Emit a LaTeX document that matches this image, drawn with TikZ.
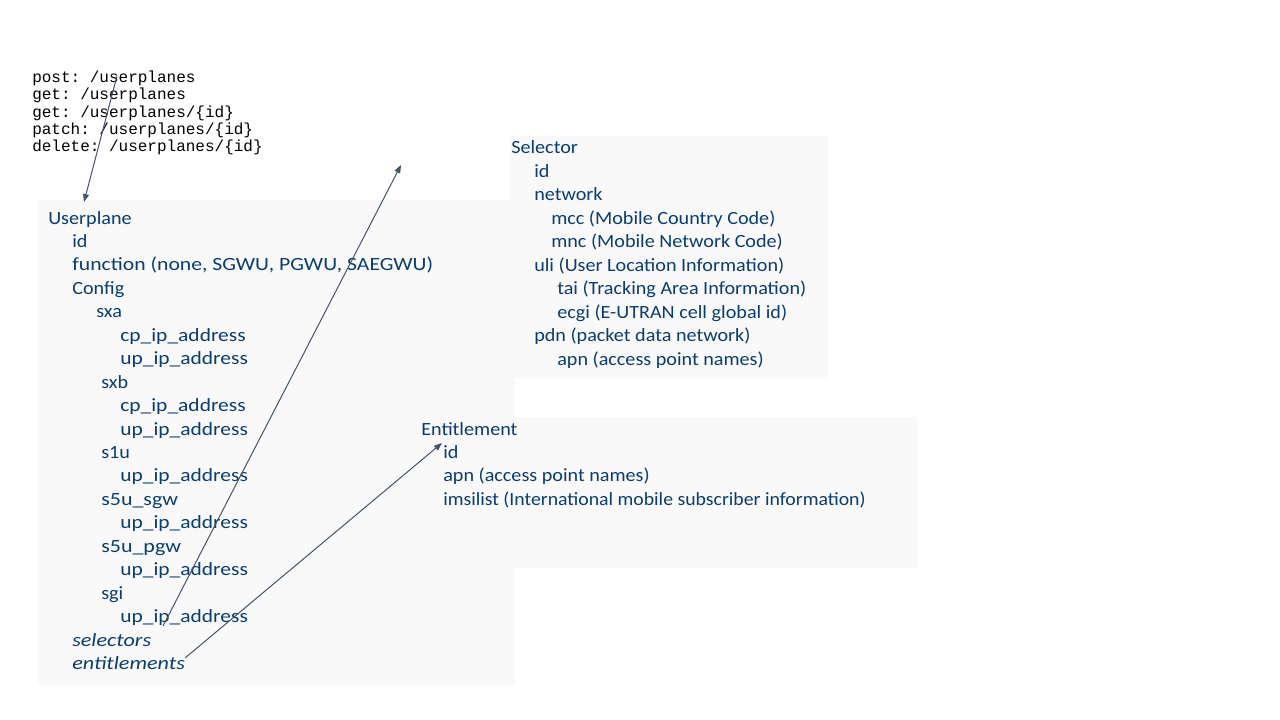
\documentclass[tikz,border=0pt]{standalone}
\usepackage{fontspec}
\usepackage{graphicx}
\setmainfont{Carlito}[FakeStretch=1.08]
\setmonofont{Liberation Mono}
\usetikzlibrary{arrows.meta}
\definecolor{txt}{HTML}{0B3D72}
\definecolor{boxfill}{HTML}{F9F9F9}
\definecolor{arr}{HTML}{44546A}
\newcommand{\wide}[1]{\scalebox{1.065}[1]{#1}}
\begin{document}
\begin{tikzpicture}[x=0.75pt,y=-0.75pt,
  lbl/.style={anchor=base west, inner sep=0pt, text=txt, font=\fontsize{14}{16}\selectfont},
  code/.style={anchor=base west, inner sep=0pt, text=black, font=\ttfamily\fontsize{12}{13}\selectfont},
  panel/.style={fill=boxfill, draw=none},
  link/.style={draw=arr, line width=0.75pt, -{Triangle[length=6pt,width=4.5pt]}}]
\useasboundingbox (0,0) rectangle (1280,720);
% panels
\fill[panel] (415,417) rectangle (918,568);
\fill[panel] (510,136) rectangle (828,378);
\fill[panel] (38,200) rectangle (515,685);
% code
\node[code] (c1) at (32,82.5) {post: /userplanes};
\node[code] (c2) at (32,99.8) {get: /userplanes};
\node[code] (c3) at (32,117.1) {get: /userplanes/\{id\}};
\node[code] (c4) at (32,134.4) {patch: /userplanes/\{id\}};
\node[code] (c5) at (32,151.7) {delete: /userplanes/\{id\}};
% userplane
\node[lbl] (u0) at (48,224) {Userplane};
\node[lbl] (u1) at (72,247.45) {id};
\node[lbl] (u2) at (72,270.9) {\scalebox{1.075}[1]{function (none, SGWU, PGWU, SAEGWU)}};
\node[lbl] (u3) at (72,294.35) {Config};
\node[lbl] (u4) at (96,317.8) {sxa};
\node[lbl] (u5) at (120,341.25) {\wide{cp\_ip\_address}};
\node[lbl] (u6) at (120,364.7) {\wide{up\_ip\_address}};
\node[lbl] (u7) at (101,388.15) {sxb};
\node[lbl] (u8) at (120,411.6) {\wide{cp\_ip\_address}};
\node[lbl] (u9) at (120,435.05) {\wide{up\_ip\_address}};
\node[lbl] (u10) at (101,458.5) {s1u};
\node[lbl] (u11) at (120,481.95) {\wide{up\_ip\_address}};
\node[lbl] (u12) at (101,505.4) {\scalebox{1.09}[1]{s5u\_sgw}};
\node[lbl] (u13) at (120,528.85) {\wide{up\_ip\_address}};
\node[lbl] (u14) at (101,552.3) {\scalebox{1.09}[1]{s5u\_pgw}};
\node[lbl] (u15) at (120,575.75) {\wide{up\_ip\_address}};
\node[lbl] (u16) at (101,599.2) {sgi};
\node[lbl] (u17) at (120,622.65) {\wide{up\_ip\_address}};
\node[lbl] (u18) at (72,646.1) {\scalebox{1.1}[1]{\itshape selectors}};
\node[lbl] (u19) at (72,669.55) {\scalebox{1.1}[1]{\itshape entitlements}};
% selector
\node[lbl] (s0) at (511,154) {Selector};
\node[lbl] (s1) at (534,177.45) {id};
\node[lbl] (s2) at (534,200.9) {network};
\node[lbl] (s3) at (551,224.35) {mcc (Mobile Country Code)};
\node[lbl] (s4) at (551,247.8) {mnc (Mobile Network Code)};
\node[lbl] (s5) at (534,271.25) {uli (User Location Information)};
\node[lbl] (s6) at (557,294.7) {tai (Tracking Area Information)};
\node[lbl] (s7) at (557,318.15) {ecgi (E-UTRAN cell global id)};
\node[lbl] (s8) at (534,341.6) {pdn (packet data network)};
\node[lbl] (s9) at (557,365.05) {apn (access point names)};
% entitlement
\node[lbl] (e0) at (421,435) {Entitlement};
\node[lbl] (e1) at (443,458.45) {id};
\node[lbl] (e2) at (443,481.9) {apn (access point names)};
\node[lbl] (e3) at (443,505.35) {\scalebox{0.98}[1]{imsilist (International mobile subscriber information)}};
% connector ends
\coordinate (a1s) at (117,76);
\coordinate (a1e) at (84,202);
\coordinate (a2s) at (163,626);
\coordinate (a2e) at (401,165);
\coordinate (a3s) at (185,658);
\coordinate (a3e) at (442,443);
\draw[link] (a1s) -- (a1e);
\draw[link] (a2s) -- (a2e);
\draw[link] (a3s) -- (a3e);
\end{tikzpicture}
\end{document}
